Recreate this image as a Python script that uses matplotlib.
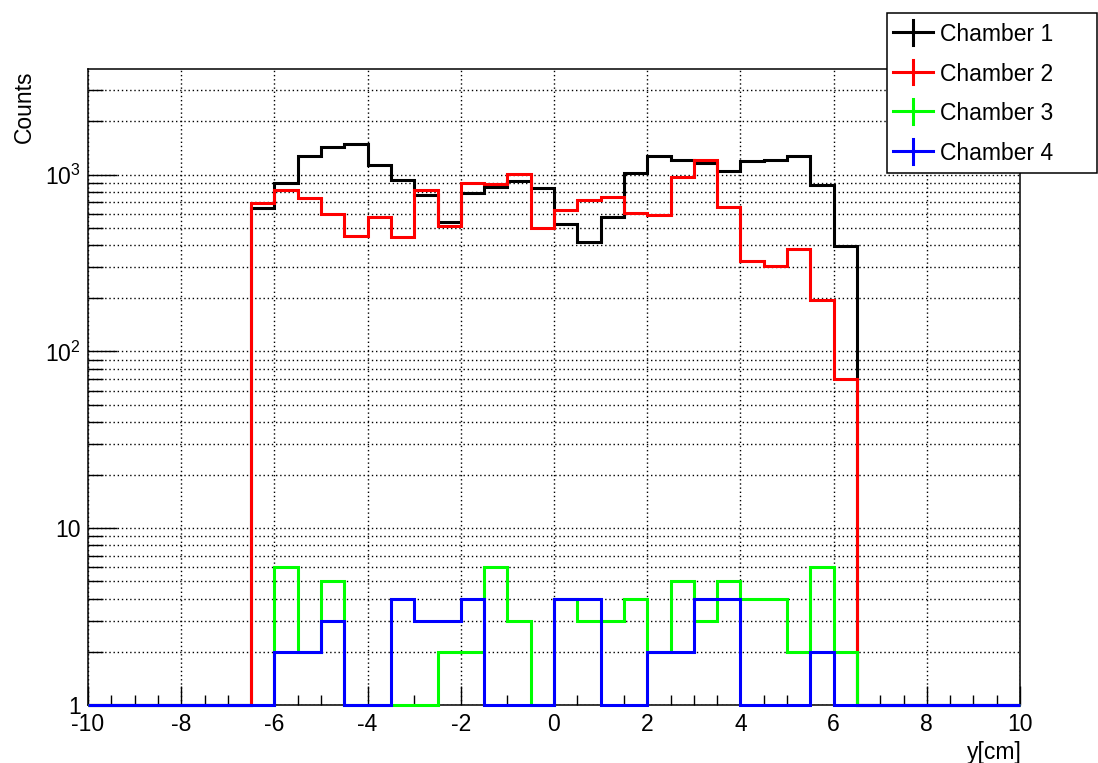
import numpy as np
import matplotlib
matplotlib.use("Agg")
import matplotlib.pyplot as plt
from matplotlib.lines import Line2D
from matplotlib.patches import Rectangle
from matplotlib.ticker import FixedLocator, MultipleLocator, NullFormatter, FuncFormatter

plt.rcParams['font.family'] = ['Liberation Sans', 'DejaVu Sans']
plt.rcParams['mathtext.fontset'] = 'custom'
plt.rcParams['mathtext.rm'] = 'Liberation Sans'
plt.rcParams['mathtext.it'] = 'Liberation Sans:italic'

# Histogram binning: 40 bins of 0.5 cm between -10 and 10 cm
bin_edges = np.arange(-10.0, 10.0 + 0.25, 0.5)

# Bin contents from -6.5 to 6.5 cm (26 bins); all other bins are empty
chamber1 = [645, 898, 1280, 1440, 1490, 1133, 933, 771, 542, 791, 855, 916, 840,
            528, 415, 574, 1021, 1268, 1215, 1159, 1045, 1189, 1215, 1280, 870, 396]
chamber2 = [688, 822, 738, 600, 448, 579, 442, 822, 515, 898, 885, 1007, 500,
            630, 719, 751, 604, 592, 975, 1215, 659, 326, 305, 379, 196, 70]
chamber3 = [0, 6, 2, 5, 0, 0, 0, 0, 2, 2, 6, 3, 0,
            4, 3, 3, 4, 2, 5, 3, 5, 4, 4, 2, 6, 2]
chamber4 = [0, 2, 2, 3, 0, 0, 4, 3, 3, 4, 0, 0, 0,
            4, 4, 0, 0, 2, 2, 4, 4, 0, 0, 0, 2, 0]

labels = ["Chamber 1", "Chamber 2", "Chamber 3", "Chamber 4"]
colors = ["#000000", "#ff0000", "#00ff00", "#0000ff"]

first_bin = 7  # bin index of -6.5 cm


def full_hist(contents):
    h = np.zeros(len(bin_edges) - 1)
    h[first_bin:first_bin + len(contents)] = contents
    return h


YMIN, YMAX = 1.0, 3960.0
FS = 16.5

fig = plt.figure(figsize=(10.98, 7.63), dpi=100)
W, H = 1098, 763
ax = fig.add_axes([88 / W, 1 - 705 / H, (1020 - 88) / W, (705 - 69) / H])

for series, col in zip([chamber1, chamber2, chamber3, chamber4], colors):
    h = full_hist(series)
    # empty bins are shown on the lower frame edge, as on a log axis
    ax.stairs(np.clip(h, YMIN, None), bin_edges, baseline=None, color=col,
              linewidth=2.2, clip_on=False, zorder=3)

ax.set_yscale('log')
ax.set_xlim(-10, 10)
ax.set_ylim(YMIN, YMAX)

ax.xaxis.set_major_locator(MultipleLocator(2))
ax.xaxis.set_minor_locator(MultipleLocator(0.5))
ax.xaxis.set_major_formatter(FuncFormatter(lambda v, p: f"{v:g}"))

major_y = [1, 10, 100, 1000]
minor_y = [m * d for d in [1, 10, 100, 1000] for m in range(2, 10) if m * d < YMAX]
ax.yaxis.set_major_locator(FixedLocator(major_y))
ax.yaxis.set_minor_locator(FixedLocator(minor_y))
ylab = {1: "1", 10: "10", 100: r"$10^{2}$", 1000: r"$10^{3}$"}
ax.yaxis.set_major_formatter(FuncFormatter(lambda v, p: ylab.get(int(round(v)), "")))
ax.yaxis.set_minor_formatter(NullFormatter())

ax.tick_params(axis='both', which='both', direction='in', top=False, right=False,
               labelsize=FS, width=1.0, color='black')
ax.tick_params(axis='x', which='major', length=14, pad=6)
ax.tick_params(axis='x', which='minor', length=7)
ax.tick_params(axis='y', which='major', length=21, pad=5)
ax.tick_params(axis='y', which='minor', length=11)

ax.grid(True, axis='x', which='major', color='black', linestyle=(0, (1, 2)), linewidth=1.0)
ax.grid(True, axis='y', which='both', color='black', linestyle=(0, (1, 2)), linewidth=1.0)
ax.set_axisbelow(True)

for s in ax.spines.values():
    s.set_linewidth(1.1)

ax.set_xlabel("y[cm]", fontsize=FS, loc='right')
ax.xaxis.set_label_coords(1.002, -0.056)
ax.set_ylabel("Counts", fontsize=FS, loc='top')
ax.yaxis.set_label_coords(-0.056, 0.998)

# Legend box in the upper right corner of the canvas
lx0, ly0, lx1, ly1 = 887, 12.5, 1097, 173
fig.add_artist(Rectangle((lx0 / W, 1 - ly1 / H), (lx1 - lx0) / W, (ly1 - ly0) / H,
                         transform=fig.transFigure, facecolor='white',
                         edgecolor='black', linewidth=1.1, zorder=5))
row_y = [32, 72, 111, 151]
for yy, lab, col in zip(row_y, labels, colors):
    fy = 1 - yy / H
    fig.add_artist(Line2D([893 / W, 933 / W], [fy, fy], transform=fig.transFigure,
                          color=col, linewidth=2.2, zorder=6))
    fig.add_artist(Line2D([913 / W, 913 / W], [fy - 12.5 / H, fy + 12.5 / H],
                          transform=fig.transFigure, color=col, linewidth=2.2, zorder=6))
    fig.text(940 / W, fy, lab, fontsize=FS, ha='left', va='center_baseline',
             color='black', zorder=7)

fig.savefig("out.png", dpi=100, facecolor='white')
